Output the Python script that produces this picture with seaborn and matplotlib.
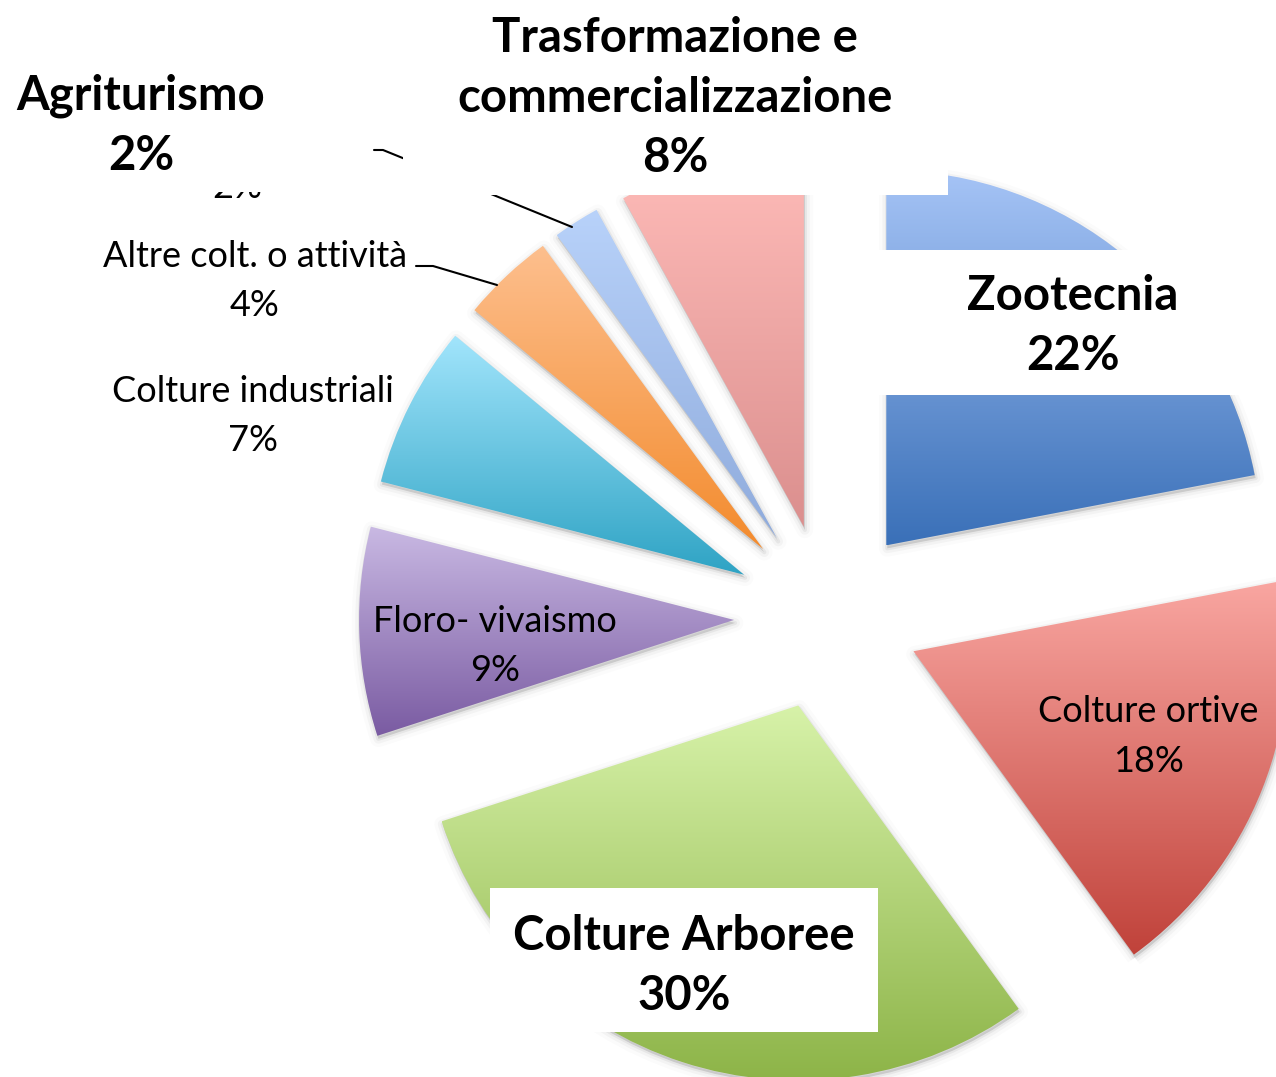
import numpy as np
import matplotlib
matplotlib.use("Agg")
import matplotlib.pyplot as plt
from matplotlib.patches import Wedge, Rectangle
import seaborn as sns

# data, clockwise from 12 o'clock
categories = ["Zootecnia", "Colture ortive", "Colture Arboree", "Floro- vivaismo",
              "Colture industriali", "Altre colt. o attività", "Agriturismo",
              "Trasformazione e\ncommercializzazione"]
shares = [22, 18, 30, 9, 7, 4, 2, 8]

# gradient colours of each slice (top -> bottom)
top_colors = ["#a6c4f6", "#f9a6a1", "#d7f2a9", "#c9b9e3",
              "#a2e5fc", "#fdbf8e", "#b8d2fa", "#ffbcb9"]
bottom_colors = ["#3a70b8", "#c0423a", "#8db448", "#7a5ba2",
                 "#2ea3c4", "#f38b2d", "#8fabdc", "#db8f8e"]

W, H = 1276, 1077

sns.set_theme(style="white")
plt.rcParams["font.family"] = ["Lato", "DejaVu Sans"]
plt.rcParams["text.color"] = "black"

fig = plt.figure(figsize=(W / 100, H / 100), dpi=100)
ax = fig.add_axes([0, 0, 1, 1])

radius = 375
wedges, _ = ax.pie(shares, explode=[93] * len(shares), radius=radius,
                   center=(827, H - 617), startangle=90, counterclock=False,
                   wedgeprops=dict(linewidth=0))

grad = np.linspace(0, 1, 256).reshape(-1, 1)
for w, top, bot in zip(wedges, top_colors, bottom_colors):
    cx, cy = w.center
    # soft drop shadow
    ax.add_patch(Wedge((cx + 1, cy - 3), radius, w.theta1, w.theta2,
                       facecolor=(0, 0, 0, 0.12), linewidth=0, zorder=1))
    for lw, a in [(12, 0.015), (7, 0.03), (3, 0.05)]:
        ax.add_patch(Wedge((cx + 1, cy - 3), radius, w.theta1, w.theta2,
                           facecolor="none", edgecolor=(0, 0, 0, a),
                           linewidth=lw, joinstyle="round", zorder=1))
    w.set_facecolor("none")
    w.set_zorder(2)
    ext = w.get_path().get_extents()
    cmap = sns.blend_palette([bot, top], n_colors=256, as_cmap=True)
    im = ax.imshow(grad, extent=(ext.x0, ext.x1, ext.y0, ext.y1), origin="lower",
                   cmap=cmap, aspect="auto", interpolation="bicubic", zorder=2)
    im.set_clip_path(w)

# leader lines
ax.plot([416, 433, 497], [H - 266, H - 266, H - 285], color="black", lw=1.5, zorder=3)
ax.plot([374, 383, 572], [H - 150, H - 150, H - 227], color="black", lw=1.5, zorder=3)

# original small label left under the box
ax.text(237, H - 198, "2%", ha="center", va="baseline", fontsize=26,
        color="black", zorder=3)

# white label boxes
for x0, y0, x1, y1 in [(403, 0, 948, 195), (0, 0, 370, 192),
                       (879, 250, 1262, 395), (490, 888, 878, 1032)]:
    ax.add_patch(Rectangle((x0, H - y1), x1 - x0, y1 - y0, facecolor="white",
                           edgecolor="none", zorder=5))


def put_label(x, baselines, lines, bold):
    for y, s in zip(baselines, lines):
        ax.text(x, H - y, s, ha="center", va="baseline", color="black",
                fontsize=34 if bold else 26,
                fontweight="bold" if bold else "normal", zorder=7)


label_layout = [
    (1073, [310, 370], True),
    (1148, [722, 772], False),
    (684, [950, 1010], True),
    (495, [632, 681], False),
    (253, [402, 451], False),
    (255, [267, 316], False),
    (141, [110, 170], True),
    (675, [52, 112, 172], True),
]
for name, share, (x, ys, bold) in zip(categories, shares, label_layout):
    put_label(x, ys, name.split("\n") + [f"{share}%"], bold)

ax.set_xlim(0, W)
ax.set_ylim(0, H)
ax.set_aspect("equal")
ax.axis("off")

fig.savefig("out.png", dpi=100, facecolor="white")
